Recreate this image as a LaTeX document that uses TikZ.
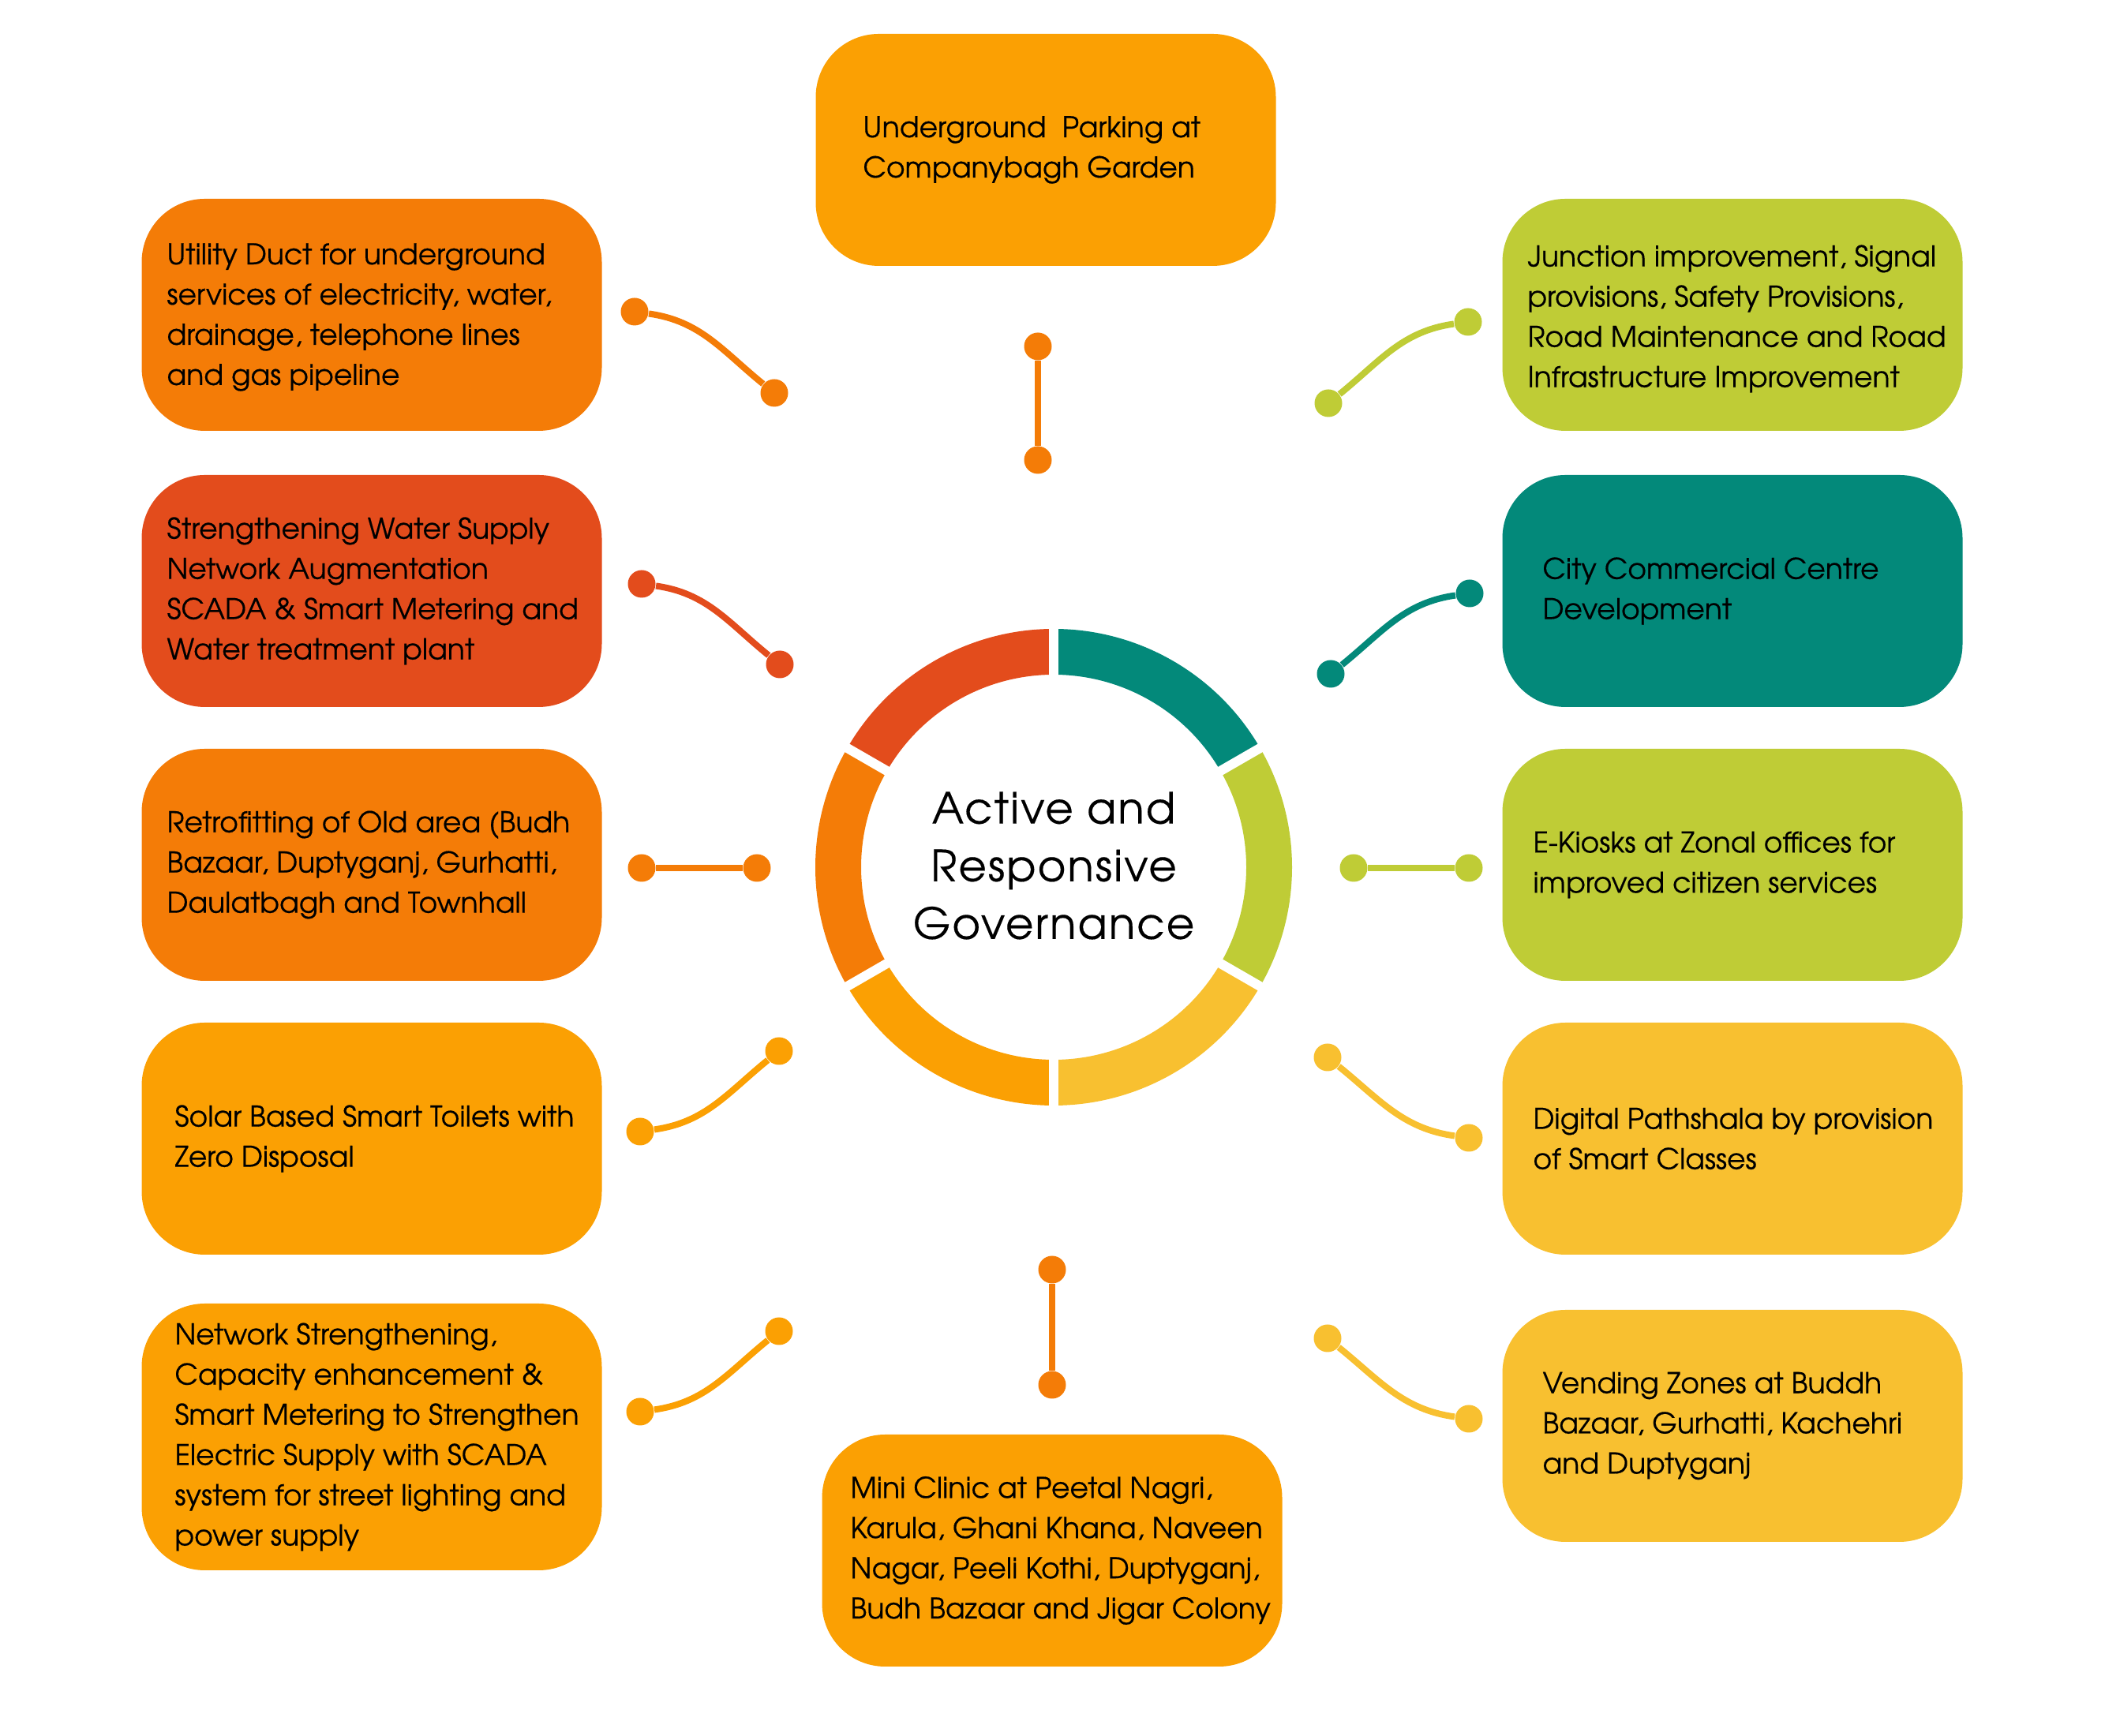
\documentclass[tikz,border=0pt]{standalone}
\usepackage{fontspec}
\setmainfont{TeX Gyre Adventor}
\newfontfamily\hubfont[LetterSpace=4,FakeBold=0.3]{TeX Gyre Adventor}
\newfontfamily\cardfont[FakeBold=0.4]{TeX Gyre Adventor}
\usepackage{tikz}
\usetikzlibrary{positioning}
\usepackage{xcolor}
\definecolor{clrOrange}{HTML}{F47C07}
\definecolor{clrRed}{HTML}{E34C1C}
\definecolor{clrAmber}{HTML}{FBA003}
\definecolor{clrYellow}{HTML}{F8C030}
\definecolor{clrLime}{HTML}{BFCC36}
\definecolor{clrTeal}{HTML}{03897A}

\begin{document}
\begin{tikzpicture}[
    card/.style={fill=#1, rounded corners=0.8cm, minimum width=5.83cm, minimum height=2.94cm, inner sep=0pt},
    cardtext/.style={anchor=west, align=left, inner sep=0pt, font=\cardfont\fontsize{10.3}{14.5}\selectfont},
    dot/.style={circle, fill=#1, minimum size=0.35cm, inner sep=0pt},
    link/.style={draw=#1, line width=2.3pt}
]
    \useasboundingbox (0,0) rectangle (26.67,22);

    % Ring
    \foreach \a/\c in {90/clrRed,150/clrOrange,210/clrAmber,270/clrYellow,330/clrLime,30/clrTeal}
        \fill[\c, shift={(13.35,11.01)}] (\a:3.02) arc[start angle=\a, delta angle=60, radius=3.02]
            -- (\a+60:2.44) arc[start angle=\a+60, delta angle=-60, radius=2.44] -- cycle;
    \foreach \a in {30,90,...,330}
        \draw[white, line width=0.12cm, shift={(13.35,11.01)}] (\a:2.3) -- (\a:3.15);
    \node[font=\hubfont\fontsize{15.5}{20.8}\selectfont, align=center] (hub) at (13.35,11.03)
        {Active and\\Responsive\\Governance};

    % Top and bottom
    \node[card=clrAmber] (parking) at (13.25,20.10) {};
    \node[cardtext] at ([xshift=0.60cm]parking.west) {Underground\ \ Parking at\\Companybagh Garden};
    \node[card=clrAmber] (clinic) at (13.33,2.35) {};
    \node[cardtext] at ([xshift=0.36cm]clinic.west) {Mini Clinic at Peetal Nagri,\\Karula, Ghani Khana, Naveen\\Nagar, Peeli Kothi, Duptyganj,\\Budh Bazaar and Jigar Colony};

    % Left column
    \node[card=clrOrange] (duct) at (4.71,18.01) {};
    \node[cardtext] at ([xshift=0.32cm, yshift=-0.03cm]duct.west) {Utility Duct for underground\\services of electricity, water,\\drainage, telephone lines\\and gas pipeline};
    \node[card=clrRed] (water) at (4.71,14.51) {};
    \node[cardtext] at ([xshift=0.32cm]water.west) {Strengthening Water Supply\\Network Augmentation\\SCADA \& Smart Metering and\\Water treatment plant};
    \node[card=clrOrange] (retrofit) at (4.71,11.04) {};
    \node[cardtext] at ([xshift=0.32cm]retrofit.west) {Retrofitting of Old area (Budh\\Bazaar, Duptyganj, Gurhatti,\\Daulatbagh and Townhall};
    \node[card=clrAmber] (toilets) at (4.71,7.57) {};
    \node[cardtext] at ([xshift=0.42cm]toilets.west) {Solar Based Smart Toilets with\\Zero Disposal};
    \node[card=clrAmber, minimum height=3.38cm] (power) at (4.71,3.79) {};
    \node[cardtext] at ([xshift=0.42cm]power.west) {Network Strengthening,\\Capacity enhancement \&\\Smart Metering to Strengthen\\Electric Supply with SCADA\\system for street lighting and\\power supply};

    % Right column
    \node[card=clrLime] (junction) at (21.95,18.01) {};
    \node[cardtext] at ([xshift=0.32cm, yshift=-0.05cm]junction.west) {Junction improvement, Signal\\provisions, Safety Provisions,\\Road Maintenance and Road\\Infrastructure Improvement};
    \node[card=clrTeal] (commerce) at (21.95,14.51) {};
    \node[cardtext] at ([xshift=0.51cm]commerce.west) {City Commercial Centre\\Development};
    \node[card=clrLime] (kiosks) at (21.95,11.04) {};
    \node[cardtext] at ([xshift=0.39cm]kiosks.west) {E-Kiosks at Zonal offices for\\improved citizen services};
    \node[card=clrYellow] (pathshala) at (21.95,7.57) {};
    \node[cardtext] at ([xshift=0.39cm]pathshala.west) {Digital Pathshala by provision\\of Smart Classes};
    \node[card=clrYellow] (vending) at (21.95,3.93) {};
    \node[cardtext] at ([xshift=0.51cm]vending.west) {Vending Zones at Buddh\\Bazaar, Gurhatti, Kachehri\\and Duptyganj};

    % Connectors
    \node[dot=clrOrange] (parking-a) at (13.15,17.61) {};
    \node[dot=clrOrange] (parking-b) at (13.15,16.17) {};
    \draw[link=clrOrange] (parking-a) -- (parking-b);

    \node[dot=clrOrange] (clinic-a) at (13.33,4.45) {};
    \node[dot=clrOrange] (clinic-b) at (13.33,5.91) {};
    \draw[link=clrOrange] (clinic-a) -- (clinic-b);

    \node[dot=clrOrange] (duct-a) at (8.04,18.05) {};
    \node[dot=clrOrange] (duct-b) at (9.81,17.02) {};
    \draw[link=clrOrange] (duct-a) to[out=-8, in=141] (duct-b);

    \node[dot=clrRed] (water-a) at (8.13,14.60) {};
    \node[dot=clrRed] (water-b) at (9.88,13.58) {};
    \draw[link=clrRed] (water-a) to[out=-8, in=141] (water-b);

    \node[dot=clrOrange] (retrofit-a) at (8.13,11.00) {};
    \node[dot=clrOrange] (retrofit-b) at (9.59,11.00) {};
    \draw[link=clrOrange] (retrofit-a) -- (retrofit-b);

    \node[dot=clrAmber] (toilets-a) at (8.11,7.66) {};
    \node[dot=clrAmber] (toilets-b) at (9.87,8.68) {};
    \draw[link=clrAmber] (toilets-a) to[out=8, in=-141] (toilets-b);

    \node[dot=clrAmber] (power-a) at (8.11,4.11) {};
    \node[dot=clrAmber] (power-b) at (9.87,5.13) {};
    \draw[link=clrAmber] (power-a) to[out=8, in=-141] (power-b);

    \node[dot=clrLime] (junction-a) at (18.60,17.92) {};
    \node[dot=clrLime] (junction-b) at (16.83,16.89) {};
    \draw[link=clrLime] (junction-a) to[out=188, in=39] (junction-b);

    \node[dot=clrTeal] (commerce-a) at (18.62,14.48) {};
    \node[dot=clrTeal] (commerce-b) at (16.86,13.46) {};
    \draw[link=clrTeal] (commerce-a) to[out=188, in=39] (commerce-b);

    \node[dot=clrLime] (kiosks-a) at (18.61,11.00) {};
    \node[dot=clrLime] (kiosks-b) at (17.15,11.00) {};
    \draw[link=clrLime] (kiosks-a) -- (kiosks-b);

    \node[dot=clrYellow] (pathshala-a) at (18.61,7.58) {};
    \node[dot=clrYellow] (pathshala-b) at (16.82,8.60) {};
    \draw[link=clrYellow] (pathshala-a) to[out=172, in=-39] (pathshala-b);

    \node[dot=clrYellow] (vending-a) at (18.61,4.02) {};
    \node[dot=clrYellow] (vending-b) at (16.82,5.04) {};
    \draw[link=clrYellow] (vending-a) to[out=172, in=-39] (vending-b);
\end{tikzpicture}
\end{document}
